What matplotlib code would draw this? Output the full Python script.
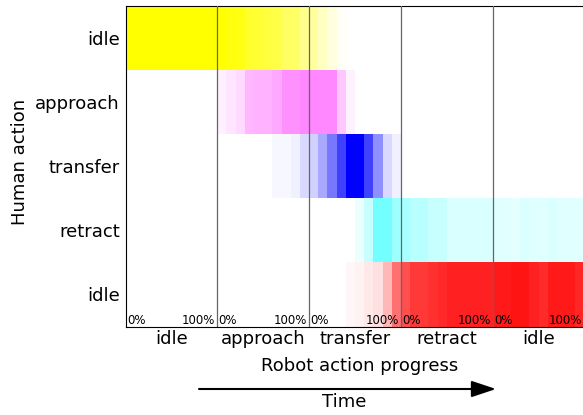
import numpy as np
import matplotlib
matplotlib.use("Agg")
import matplotlib.pyplot as plt
from matplotlib.colors import to_rgba

robot_phases = ["idle", "approach", "transfer", "retract", "idle"]
human_actions = ["idle", "approach", "transfer", "retract", "idle"]
row_colors = ["#ffff00", "#ff00ff", "#0000ff", "#00ffff", "#ff0000"]
bins_per_phase = 10

# alpha of each 10% bin (50 bins over the 5 robot phases), one list per human action row
idle_top = [1.0] * 10 + [1.0, .95, .93, .82, .80, .75, .73, .62, .60, .45,
                         .38, .25, .12, .03] + [0.0] * 26
approach = [0.0] * 10 + [.06, .10, .15, .28, .30, .30, .34, .43, .43, .47,
                         .47, .47, .47, .22, .05] + [0.0] * 25
transfer = [0.0] * 16 + [.03, .03, .06, .15, .18, .34, .53, .75, 1.0, 1.0,
                         .75, .44, .15, .06] + [0.0] * 20
retract = [0.0] * 25 + [.08, .22, .55, .55, .38, .34, .28, .28, .22, .22,
                        .15, .15, .15, .15, .15, .12, .12, .10, .15, .12,
                        .12, .15, .12, .12, .12]
idle_bottom = [0.0] * 24 + [.03, .05, .09, .12, .28, .56, .69, .78, .78, .81,
                            .84, .87, .87, .87, .87, .87, .90, .90, .92, .92,
                            .87, .83, .90, .90, .90, .85]
rows = [idle_top, approach, transfer, retract, idle_bottom]

fig = plt.figure(figsize=(5.83, 4.15), dpi=100)
ax = fig.add_axes([125.5 / 583, 1 - 326.5 / 415, 459 / 583, 321 / 415])

n_phase = len(robot_phases)
edges = np.arange(n_phase * bins_per_phase) / bins_per_phase
for r, (alphas, col) in enumerate(zip(rows, row_colors)):
    cols = [to_rgba(col, a) for a in alphas]
    ax.bar(edges, 1.0, width=1.0 / bins_per_phase, bottom=r, align="edge",
           color=cols, linewidth=0, antialiased=False)

for p in range(1, n_phase):
    ax.axvline(p, color="0.4", lw=0.9, zorder=5)

for p in range(n_phase):
    ax.annotate("0%", xy=(p, 0), xycoords=("data", "axes fraction"),
                xytext=(1, 1.5), textcoords="offset points",
                ha="left", va="baseline", fontsize=8.5)
    ax.annotate("100%", xy=(p + 1, 0), xycoords=("data", "axes fraction"),
                xytext=(-1.5, 1.5), textcoords="offset points",
                ha="right", va="baseline", fontsize=8.5)

ax.set_xlim(0, n_phase)
ax.set_ylim(len(rows), 0)
ax.set_xticks(np.arange(n_phase) + 0.5)
ax.set_xticklabels(robot_phases, fontsize=13)
ax.set_yticks(np.arange(len(rows)) + 0.5)
ax.set_yticklabels(human_actions, fontsize=13)
ax.tick_params(axis="x", length=0, pad=2.5)
ax.tick_params(axis="y", length=0, pad=4)
ax.spines["right"].set_visible(False)

fig.text(359.5 / 583, 49 / 415, "Robot action progress", ha="center", va="center", fontsize=13)
fig.text(20 / 583, 1 - 162 / 415, "Human action", ha="center", va="center",
         rotation=90, fontsize=13)
fig.text(344 / 583, 13 / 415, "Time", ha="center", va="center", fontsize=13)
ax.annotate("", xy=(496, 26), xytext=(199, 26), xycoords="figure pixels",
            arrowprops=dict(arrowstyle="-|>,head_length=1.5,head_width=0.5",
                            mutation_scale=10, lw=1.5, color="k",
                            shrinkA=0, shrinkB=0))

fig.savefig("out.png", dpi=100)
